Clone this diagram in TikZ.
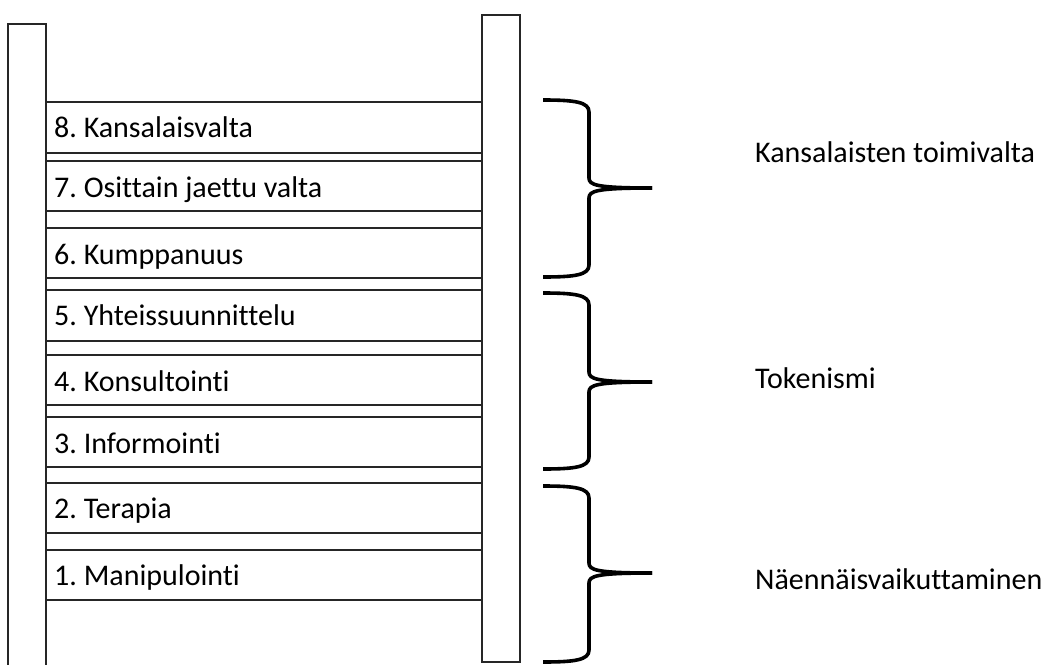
\documentclass[tikz,border=0pt]{standalone}
\usepackage{fontspec}
\setmainfont{Carlito}[Ligatures=NoCommon]
\frenchspacing
\begin{document}
\begin{tikzpicture}[x=1pt,y=-1pt,
  railbox/.style={draw=black!85,line width=1.3pt,fill=white},
  rungbox/.style={draw=black!85,line width=1.3pt,fill=white},
  lbl/.style={anchor=base west,inner sep=0pt,font=\fontsize{30}{36}\selectfont\frenchspacing,text=black},
  bracepath/.style={draw=black,line width=3.6pt,line cap=butt,line join=round}]
\useasboundingbox (0,0) rectangle (1062,664);
% rungs
\foreach \t/\b [count=\i] in {550/600,483/533,417/467,355/405,290/341,228/278,161/211,102/153}{
  \draw[rungbox] (46,\t) rectangle (482,\b);
}
% rails
\draw[railbox] (8,680) -- (8,24) -- (46,24) -- (46,680);
\draw[railbox] (482,15) rectangle (520,662);
% rung labels
\node[lbl] (r8) at (54,137) {8. Kansalaisvalta};
\node[lbl] (r7) at (54,197) {7. Osittain jaettu valta};
\node[lbl] (r6) at (54,264) {6. Kumppanuus};
\node[lbl] (r5) at (54,325) {5. Yhteissuunnittelu};
\node[lbl] (r4) at (54,391) {4. Konsultointi};
\node[lbl] (r3) at (54,453) {3. Informointi};
\node[lbl] (r2) at (54,518) {2. Terapia};
\node[lbl] (r1) at (54,585) {1. Manipulointi};
% group labels
\node[lbl] (g1) at (755,162) {Kansalaisten toimivalta};
\node[lbl] (g2) at (755,388) {Tokenismi};
\node[lbl] (g3) at (755,589) {Näennäisvaikuttaminen};
% braces
\foreach \a/\m/\z in {100/188/277,293/382/469,486/573/662}{
  \draw[bracepath] (543,\a) .. controls (575,\a) and (589,\a+2) .. (589,\a+12)
    -- (589,\m-10) .. controls (589,\m-3) and (596,\m) .. (652,\m);
  \draw[bracepath] (543,\z) .. controls (575,\z) and (589,\z-2) .. (589,\z-12)
    -- (589,\m+10) .. controls (589,\m+3) and (596,\m) .. (652,\m);
}
\end{tikzpicture}
\end{document}
